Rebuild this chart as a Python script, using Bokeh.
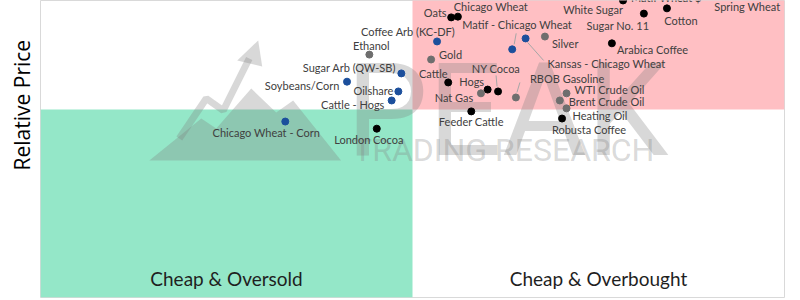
import math
from bokeh.plotting import figure
from bokeh.models import ColumnDataSource, Range1d, Title
from bokeh.core.properties import value
from bokeh.embed import file_html
from bokeh.resources import INLINE

# ---------------- data ----------------
names = [
    "Oats", "Chicago Wheat", "Matif Wheat $", "White Sugar", "Sugar No. 11", "Cotton",
    "Spring Wheat", "Arabica Coffee", "Cattle", "Hogs", "NY Cocoa", "Feeder Cattle",
    "Robusta Coffee", "London Cocoa",
    "Silver", "Gold", "Ethanol", "Nat Gas", "RBOB Gasoline", "WTI Crude Oil",
    "Brent Crude Oil", "Heating Oil",
    "Coffee Arb (KC-DF)", "Matif - Chicago Wheat", "Kansas - Chicago Wheat",
    "Sugar Arb (QW-SB)", "Soybeans/Corn", "Oilshare", "Cattle - Hogs", "Chicago Wheat - Corn",
]
momentum = [
    55.2, 56.1, 78.3, 74.0, 81.1, 84.2,
    95.0, 76.8, 54.8, 60.1, 61.5, 57.9,
    70.1, 45.2,
    67.8, 52.5, 44.2, 59.2, 63.9, 70.7,
    69.8, 70.7,
    53.3, 63.4, 65.2,
    48.5, 41.2, 48.1, 47.2, 32.9,
]
relative_price = [
    74.5, 74.7, 79.0, 80.9, 75.5, 76.9,
    81.4, 67.6, 57.2, 55.3, 54.8, 49.5,
    47.6, 44.9,
    69.4, 63.3, 64.6, 54.3, 53.2, 54.3,
    52.4, 50.3,
    68.1, 66.0, 68.9,
    59.6, 57.4, 54.8, 52.4, 46.8,
]
groups = (["Outright"] * 14) + (["Energy & Metals"] * 8) + (["Spread"] * 8)
quadrant_labels = ["Cheap & Oversold", "Cheap & Overbought"]
y_title = "Relative Price"

# ---------------- layout / style ----------------
W, H = 800, 300
FL, FR, FT, FB = 39, 16, 0, 3
FW, FH = W - FL - FR, H - FT - FB
X0, X1 = 0, 100
Y0 = 0
Y1 = FH * 50 / 188.0
XU = (X1 - X0) / FW
YU = (Y1 - Y0) / FH

def px2x(px):
    return X0 + (px - FL) * XU

def px2y(py):
    return Y0 + (FT + FH - py) * YU

group_color = {"Outright": "#000000", "Energy & Metals": "#6e6e6e", "Spread": "#1c4f9c"}

# label offsets (px right, px down) and alignment
label_pos = {
    "Oats": (-16, -5, "center"),
    "Chicago Wheat": (33, -10, "center"),
    "Matif Wheat $": (8, -3, "left"),
    "White Sugar": (2, 16, "center"),
    "Sugar No. 11": (-26, 12, "center"),
    "Cotton": (14, 12, "center"),
    "Spring Wheat": (0, 15, "center"),
    "Arabica Coffee": (5, 6, "left"),
    "Cattle": (-15, -9, "center"),
    "Hogs": (-16, -8, "center"),
    "NY Cocoa": (-2, -23, "center"),
    "Feeder Cattle": (0, 10, "center"),
    "Robusta Coffee": (27, 11, "center"),
    "London Cocoa": (-8, 11, "center"),
    "Silver": (7, 7, "left"),
    "Gold": (8, -5, "left"),
    "Ethanol": (2, -9, "center"),
    "Nat Gas": (-27, 4, "center"),
    "RBOB Gasoline": (14, -19, "left"),
    "WTI Crude Oil": (8, -4, "left"),
    "Brent Crude Oil": (9, 1, "left"),
    "Heating Oil": (6, 7, "left"),
    "Coffee Arb (KC-DF)": (-29, -10, "center"),
    "Matif - Chicago Wheat": (5, -25, "center"),
    "Kansas - Chicago Wheat": (22, 25, "left"),
    "Sugar Arb (QW-SB)": (-52, -6, "center"),
    "Soybeans/Corn": (-45, 4, "center"),
    "Oilshare": (-25, -1, "center"),
    "Cattle - Hogs": (-39, 4, "center"),
    "Chicago Wheat - Corn": (-19, 11, "center"),
}
leaders = {
    "Matif - Chicago Wheat": (2, -5, 4, -16),
    "Kansas - Chicago Wheat": (2, 4, 18, 22),
    "NY Cocoa": (-2, -16, -1, -5),
    "RBOB Gasoline": (1, -5, 4, -15),
}

p = figure(width=W, height=H, output_backend="svg", toolbar_location=None,
           x_range=Range1d(X0, X1), y_range=Range1d(Y0, Y1),
           min_border_left=FL, min_border_right=FR, min_border_top=FT, min_border_bottom=FB)
p.xaxis.visible = False
p.yaxis.visible = False
p.grid.visible = False
p.outline_line_color = "#d9d9d9"
p.background_fill_color = "white"
p.border_fill_color = "white"

# y title, centred on the full (cropped) chart whose middle is the quadrant split
p.add_layout(Title(text=y_title, align="left", offset=127, text_font="Open Sans",
                   text_font_size="21px", text_font_style="normal", text_color="#000000",
                   standoff=10), "left")

# quadrants
p.quad(left=[0], right=[50], bottom=[0], top=[50], fill_color="#94e7c8", line_color=None)
p.quad(left=[50], right=[100], bottom=[50], top=[100], fill_color="#ffbfc3", line_color=None)

# watermark (logo)
wm = "#7f7f7f"
mountain = [(148, 160), (200, 118), (215, 128), (250, 88), (275, 112), (292, 100), (340, 160)]
p.patch([px2x(a) for a, b in mountain], [px2y(b) for a, b in mountain],
        fill_color=wm, fill_alpha=0.3, line_color=None)
arrow = [(178, 138), (205, 98), (222, 110), (248, 58)]
p.line([px2x(a) for a, b in arrow], [px2y(b) for a, b in arrow],
       line_color=wm, line_alpha=0.3, line_width=7)
head = [(236, 60), (257, 40), (261, 66)]
p.patch([px2x(a) for a, b in head], [px2y(b) for a, b in head],
        fill_color=wm, fill_alpha=0.3, line_color=None)
p.text(x=[px2x(345)], y=[px2y(110)], text=["PEAK"], text_font=value("Roboto"),
       text_font_size="130px", text_color=wm, text_alpha=0.3,
       text_align="left", text_baseline="middle")
p.text(x=[px2x(352)], y=[px2y(149)], text=["TRADING RESEARCH"], text_font=value("Roboto"),
       text_font_size="32px", text_color=wm, text_alpha=0.3,
       text_align="left", text_baseline="middle")

# leader lines
lx0, ly0, lx1, ly1 = [], [], [], []
for n, (a, b, c, d) in leaders.items():
    i = names.index(n)
    lx0.append(momentum[i] + a * XU); ly0.append(relative_price[i] - b * YU)
    lx1.append(momentum[i] + c * XU); ly1.append(relative_price[i] - d * YU)
p.segment(lx0, ly0, lx1, ly1, line_color="#a6a6a6", line_width=1)

# points
src = ColumnDataSource(dict(x=momentum, y=relative_price, name=names,
                            color=[group_color[g] for g in groups]))
p.scatter("x", "y", source=src, size=7, fill_color="color", line_color="color")

# labels
tx, ty, tt, ta = [], [], [], []
for i, n in enumerate(names):
    dx, dy, al = label_pos[n]
    tx.append(momentum[i] + dx * XU)
    ty.append(relative_price[i] - dy * YU)
    tt.append(n)
    ta.append(al)
lsrc = ColumnDataSource(dict(x=tx, y=ty, text=tt, align=ta))
p.text("x", "y", text="text", source=lsrc, text_align="align", text_baseline="middle",
       text_font=value("Lato"), text_font_size="11px", text_color="#404040")

# quadrant labels
p.text(x=[25, 75], y=[px2y(278)] * 2, text=quadrant_labels, text_font=value("Lato"),
       text_font_size="19px", text_color="#1f1f1f", text_align="center", text_baseline="middle")

open("out.html", "w").write(file_html(p, INLINE))
